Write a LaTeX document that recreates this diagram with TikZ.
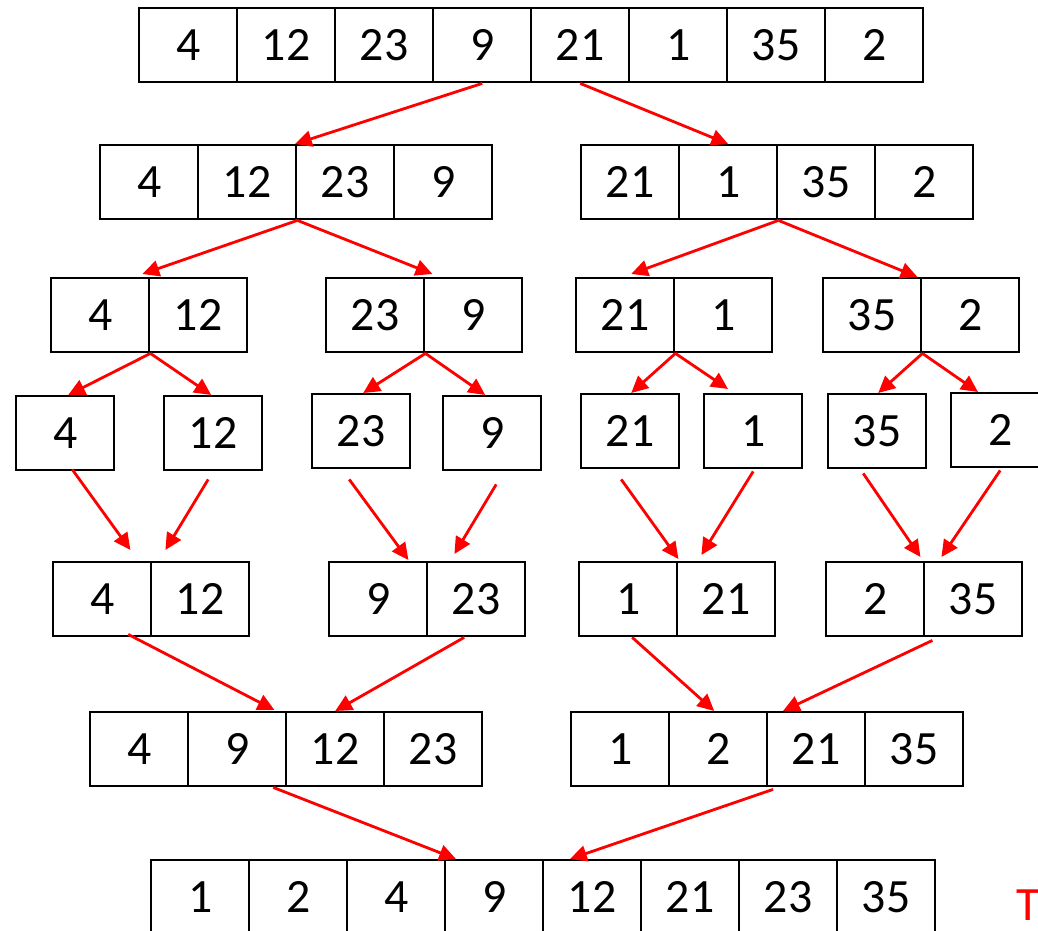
\documentclass[tikz,border=0pt]{standalone}
\usepackage{fontspec}
\setmainfont{Carlito}
\usetikzlibrary{arrows.meta,calc}

% one array: name, left edge, top edge, values
\newcommand{\cellrow}[4]{%
  \foreach \v [count=\i] in {#4}
    \node[cell] (#1-\i) at ({#2+98*(\i-1)},#3) {\v};
}

\begin{document}
\begin{tikzpicture}[
    x=0.025cm, y=-0.025cm,
    cell/.style={draw, line width=1.7pt, anchor=north west, inner sep=0pt, minimum width=2.45cm, minimum height=1.85cm, font=\fontsize{34}{40}\selectfont},
    arrow/.style={red, line width=2pt, -{Triangle[length=0.42cm, width=0.4cm]}}
  ]
    \useasboundingbox (0,0) rectangle (1038,931);
    \clip (0,0) rectangle (1038,931);

    % split
    \cellrow{r1}{138}{7}{4,12,23,9,21,1,35,2}
    \cellrow{r2a}{99}{144}{4,12,23,9}
    \cellrow{r2b}{580}{144}{21,1,35,2}
    \cellrow{r3a}{50}{277}{4,12}
    \cellrow{r3b}{325}{277}{23,9}
    \cellrow{r3c}{575}{277}{21,1}
    \cellrow{r3d}{822}{277}{35,2}
    \cellrow{r4a}{15}{395}{4}
    \cellrow{r4b}{163}{395}{12}
    \cellrow{r4c}{311}{393}{23}
    \cellrow{r4d}{442}{395}{9}
    \cellrow{r4e}{580}{393}{21}
    \cellrow{r4f}{703}{393}{1}
    \cellrow{r4g}{827}{393}{35}
    \cellrow{r4h}{950}{392}{2}

    % merge
    \cellrow{r5a}{52}{561}{4,12}
    \cellrow{r5b}{328}{561}{9,23}
    \cellrow{r5c}{578}{561}{1,21}
    \cellrow{r5d}{825}{561}{2,35}
    \cellrow{r6a}{89}{711}{4,9,12,23}
    \cellrow{r6b}{570}{711}{1,2,21,35}
    \cellrow{r7}{150}{859}{1,2,4,9,12,21,23,35}

    \node[red, anchor=base west, inner sep=0pt, font=\fontsize{34}{40}\selectfont] (tail) at (1016,920) {T};

    \draw[arrow] (r1-4.south) -- (r2a-3.north west);
    \draw[arrow] (r1-5.south) -- (r2b-2.north);
    \draw[arrow] (r2a-2.south east) -- ($(r3a-1.north east)+(-8,-3)$);
    \draw[arrow] (r2a-2.south east) -- ($(r3b-1.north east)+(7,-3)$);
    \draw[arrow] (r2b-2.south east) -- ($(r3c-1.north)+(6,-3)$);
    \draw[arrow] (r2b-2.south east) -- ($(r3d-1.north east)+(-5,0)$);

    \draw[arrow] (r3a-1.south east) -- ($(r4a-1.north)+(3,0)$);
    \draw[arrow] (r3a-1.south east) -- ($(r4b-1.north)+(-2,0)$);
    \draw[arrow] (r3b-1.south east) -- ($(r4c-1.north)+(2,0)$);
    \draw[arrow] (r3b-1.south east) -- ($(r4d-1.north)+(-7,0)$);
    \draw[arrow] (r3c-1.south east) -- ($(r4e-1.north)+(1,0)$);
    \draw[arrow] (r3c-1.south east) -- ($(r4f-1.north west)+(25,-4)$);
    \draw[arrow] (r3d-1.south east) -- ($(r4g-1.north)+(1,0)$);
    \draw[arrow] (r3d-1.south east) -- ($(r4h-1.north west)+(28,0)$);

    \draw[arrow] ($(r4a-1.south)+(7,-2)$) -- ($(r5a-1.north east)+(-22,-11)$);
    \draw[arrow] ($(r4b-1.south)+(-5,8)$) -- ($(r5a-1.north east)+(13,-11)$);
    \draw[arrow] ($(r4c-1.south)+(-12,10)$) -- ($(r5b-1.north east)+(-20,-1)$);
    \draw[arrow] ($(r4d-1.south)+(4,13)$) -- ($(r5b-1.north east)+(26,-7)$);
    \draw[arrow] ($(r4e-1.south)+(-9,10)$) -- ($(r5c-1.north east)+(0,-2)$);
    \draw[arrow] ($(r4f-1.south)+(0,2)$) -- ($(r5c-1.north east)+(23,-6)$);
    \draw[arrow] ($(r4g-1.south)+(-14,4)$) -- ($(r5d-1.north east)+(-5,-4)$);
    \draw[arrow] ($(r4h-1.south)+(0,2)$) -- ($(r5d-1.north east)+(16,-4)$);

    \draw[arrow] ($(r5a-1.south)+(26,-3)$) -- ($(r6a-2.north east)+(-13,-1)$);
    \draw[arrow] ($(r5b-2.south)+(-12,0)$) -- (r6a-3.north);
    \draw[arrow] ($(r5c-1.south)+(4,0)$) -- ($(r6b-2.north)+(-4,0)$);
    \draw[arrow] ($(r5d-1.south east)+(7,3)$) -- ($(r6b-3.north west)+(17,0)$);

    \draw[arrow] ($(r6a-2.south)+(36,0)$) -- ($(r7-4.north west)+(12,0)$);
    \draw[arrow] ($(r6b-3.south west)+(7,2)$) -- ($(r7-5.north west)+(28,0)$);
  \end{tikzpicture}
\end{document}
